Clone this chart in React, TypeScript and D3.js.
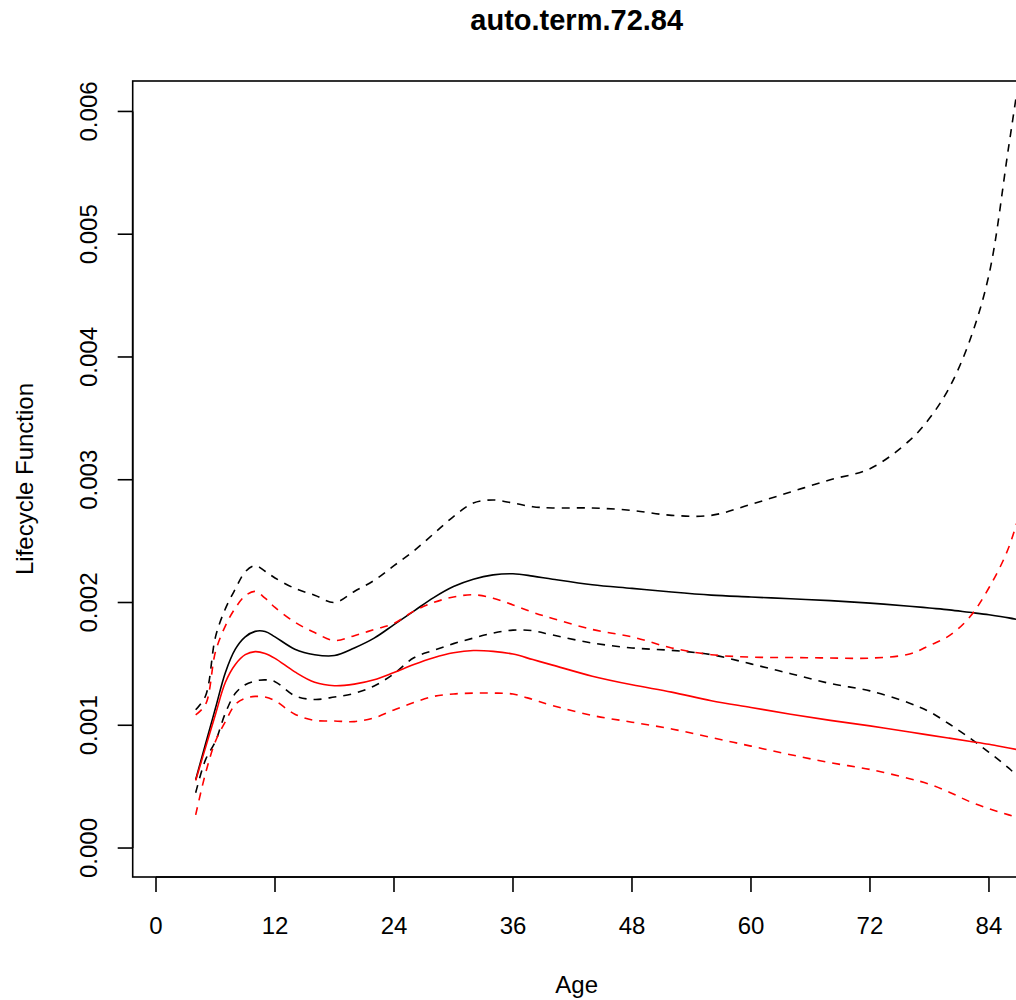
import React from "react";
import * as d3 from "d3";

const ages = [4, 5, 6, 7, 8, 9, 10, 11, 12, 14, 16, 18, 20, 22, 24, 26, 28, 30, 32, 34, 36, 38, 40, 44, 48, 52, 56, 60, 64, 68, 72, 76, 78, 80, 82, 84, 86, 88];

// values in units of 0.001
const blackMean = [0.556, 0.85, 1.14, 1.43, 1.62, 1.72, 1.765, 1.764, 1.72, 1.62, 1.575, 1.568, 1.63, 1.71, 1.82, 1.93, 2.04, 2.13, 2.19, 2.225, 2.234, 2.215, 2.19, 2.145, 2.115, 2.085, 2.06, 2.045, 2.03, 2.015, 1.995, 1.97, 1.955, 1.94, 1.92, 1.9, 1.875, 1.84];
const blackUpper = [1.126, 1.24, 1.72, 1.95, 2.11, 2.25, 2.3, 2.255, 2.2, 2.115, 2.06, 2.0, 2.09, 2.18, 2.3, 2.42, 2.56, 2.7, 2.81, 2.835, 2.81, 2.78, 2.77, 2.77, 2.75, 2.71, 2.71, 2.8, 2.9, 3.0, 3.09, 3.32, 3.5, 3.75, 4.12, 4.67, 5.72, 6.8];
const blackLower = [0.45, 0.72, 0.87, 1.1, 1.26, 1.33, 1.36, 1.37, 1.355, 1.24, 1.21, 1.23, 1.26, 1.32, 1.42, 1.55, 1.61, 1.665, 1.71, 1.75, 1.775, 1.77, 1.735, 1.67, 1.63, 1.61, 1.575, 1.5, 1.42, 1.34, 1.28, 1.18, 1.11, 1.01, 0.9, 0.78, 0.65, 0.5];
const redMean = [0.55, 0.82, 1.09, 1.35, 1.495, 1.575, 1.6, 1.585, 1.545, 1.435, 1.35, 1.322, 1.335, 1.37, 1.43, 1.495, 1.55, 1.59, 1.609, 1.602, 1.58, 1.535, 1.49, 1.4, 1.33, 1.27, 1.2, 1.145, 1.09, 1.04, 0.995, 0.945, 0.92, 0.895, 0.87, 0.845, 0.815, 0.785];
const redUpper = [1.085, 1.17, 1.6, 1.81, 1.955, 2.055, 2.09, 2.035, 1.96, 1.84, 1.755, 1.69, 1.73, 1.78, 1.83, 1.93, 2.0, 2.045, 2.063, 2.035, 1.98, 1.92, 1.87, 1.78, 1.72, 1.63, 1.575, 1.555, 1.552, 1.548, 1.547, 1.58, 1.65, 1.73, 1.875, 2.12, 2.45, 3.0];
const redLower = [0.27, 0.61, 0.87, 1.03, 1.17, 1.22, 1.235, 1.23, 1.2, 1.09, 1.04, 1.035, 1.03, 1.06, 1.125, 1.185, 1.235, 1.255, 1.262, 1.262, 1.254, 1.21, 1.16, 1.08, 1.025, 0.97, 0.9, 0.83, 0.76, 0.695, 0.64, 0.565, 0.52, 0.455, 0.38, 0.32, 0.27, 0.23];

const xTicks = [0, 12, 24, 36, 48, 60, 72, 84];
const yTicks = [0, 0.001, 0.002, 0.003, 0.004, 0.005, 0.006];
const yTickLabels = ["0.000", "0.001", "0.002", "0.003", "0.004", "0.005", "0.006"];

const titleText = "auto.term.72.84";
const xLabel = "Age";
const yLabel = "Lifecycle Function";

const W = 1016;
const H = 1000;
const left = 132.7;
const right = 1020.7;
const top = 81;
const bottom = 877;

export default function App() {
  const x = d3.scaleLinear().domain([-2.35, 87.2]).range([left, right]);
  const y = d3.scaleLinear().domain([-0.000236, 0.006248]).range([bottom, top]);

  const line = d3
    .line<[number, number]>()
    .x((d) => x(d[0]))
    .y((d) => y(d[1] / 1000))
    .curve(d3.curveCatmullRom.alpha(0.5));

  const mk = (vals: number[]) => line(ages.map((a, i) => [a, vals[i]] as [number, number])) || "";

  const series = [
    { vals: blackUpper, color: "#000000", dash: "8,7" },
    { vals: blackLower, color: "#000000", dash: "8,7" },
    { vals: blackMean, color: "#000000", dash: null },
    { vals: redUpper, color: "#ff0000", dash: "8,7" },
    { vals: redLower, color: "#ff0000", dash: "8,7" },
    { vals: redMean, color: "#ff0000", dash: null },
  ];

  const font = "'Liberation Sans', Arial, Helvetica, sans-serif";
  const cx = (left + right) / 2;
  const cy = (top + bottom) / 2;

  return (
    <svg
      width={W}
      height={H}
      viewBox={`0 0 ${W} ${H}`}
      style={{ position: "absolute", left: 0, top: 0, display: "block", background: "#fff" }}
      fontFamily={font}
    >
      <defs>
        <clipPath id="plotClip">
          <rect x={left} y={top} width={right - left} height={bottom - top} />
        </clipPath>
      </defs>
      <rect x={0} y={0} width={W} height={H} fill="#ffffff" />

      <g clipPath="url(#plotClip)">
        {series.map((s, i) => (
          <path
            key={i}
            d={mk(s.vals)}
            fill="none"
            stroke={s.color}
            strokeWidth={1.6}
            strokeDasharray={s.dash || undefined}
          />
        ))}
      </g>

      <rect x={left} y={top} width={right - left} height={bottom - top} fill="none" stroke="#000" strokeWidth={1.6} />

      {/* x axis */}
      <line x1={x(xTicks[0])} x2={x(xTicks[xTicks.length - 1])} y1={bottom} y2={bottom} stroke="#000" strokeWidth={1.6} />
      {xTicks.map((t) => (
        <g key={t}>
          <line x1={x(t)} x2={x(t)} y1={bottom} y2={bottom + 15} stroke="#000" strokeWidth={1.6} />
          <text x={x(t)} y={934} fontSize={24} textAnchor="middle" fill="#000">
            {t}
          </text>
        </g>
      ))}

      {/* y axis */}
      <line x1={left} x2={left} y1={y(yTicks[0])} y2={y(yTicks[yTicks.length - 1])} stroke="#000" strokeWidth={1.6} />
      {yTicks.map((t, i) => (
        <g key={t}>
          <line x1={left} x2={left - 15} y1={y(t)} y2={y(t)} stroke="#000" strokeWidth={1.6} />
          <text
            transform={`translate(97,${y(t)}) rotate(-90)`}
            fontSize={24}
            textAnchor="middle"
            fill="#000"
          >
            {yTickLabels[i]}
          </text>
        </g>
      ))}

      <text x={cx} y={30} fontSize={29} fontWeight="bold" textAnchor="middle" fill="#000">
        {titleText}
      </text>
      <text x={cx} y={993} fontSize={24} textAnchor="middle" fill="#000">
        {xLabel}
      </text>
      <text transform={`translate(33,${cy}) rotate(-90)`} fontSize={24} textAnchor="middle" fill="#000">
        {yLabel}
      </text>
    </svg>
  );
}
